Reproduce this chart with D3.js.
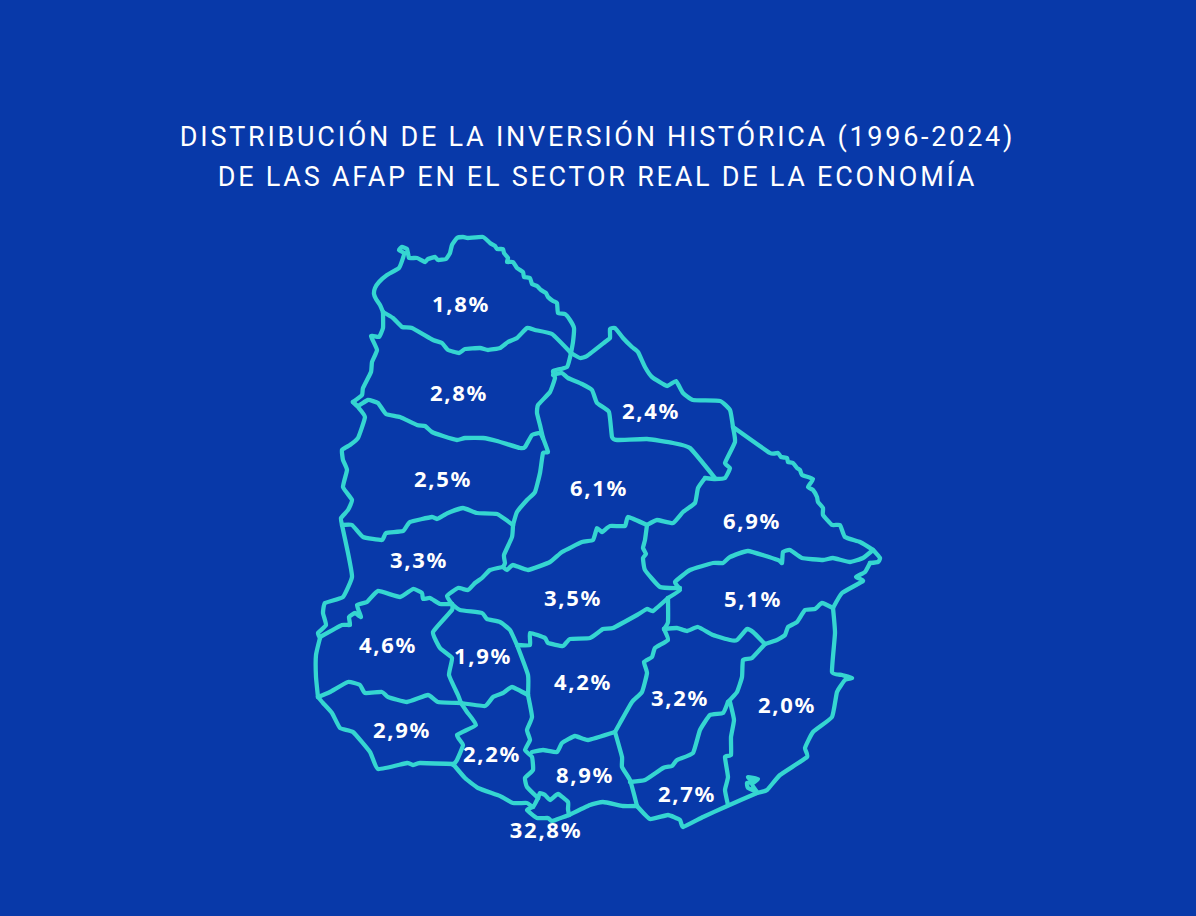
<!DOCTYPE html>
<html>

<head>
  <meta charset="utf-8">
  <title>Inversión histórica de las AFAP</title>
  <script src="https://d3js.org/d3.v7.min.js"></script>
  <style>
    html, body {
      margin: 0;
      background: #0839a9;
    }

    svg {
      display: block;
    }

    .title {
      font-family: 'Roboto', Arial, sans-serif;
      font-weight: 400;
      font-size: 27px;
      letter-spacing: 2.75px;
      fill: #ffffff;
      text-anchor: middle;
    }

    .border {
      fill: none;
      stroke: #35d6d1;
      stroke-width: 4.3;
      stroke-linejoin: round;
      stroke-linecap: round;
    }

    .share {
      font-family: 'Noto Sans', Arial, sans-serif;
      font-weight: 700;
      font-size: 22px;
      letter-spacing: 1.7px;
      fill: #ffffff;
      text-anchor: middle;
    }
  </style>
</head>

<body>
  <svg id="map" width="1196" height="916"></svg>

  <script>
    // ----
    // DATA
    // ----
    const titleLines = [
      "DISTRIBUCIÓN DE LA INVERSIÓN HISTÓRICA (1996-2024)",
      "DE LAS AFAP EN EL SECTOR REAL DE LA ECONOMÍA"
    ];

    const departments = ["Artigas", "Salto", "Paysandú", "Río Negro", "Soriano", "Flores", "Colonia", "San José",
      "Rivera", "Tacuarembó", "Durazno", "Florida", "Canelones", "Montevideo", "Cerro Largo", "Treinta y Tres",
      "Lavalleja", "Maldonado", "Rocha"];
    const shares = [1.8, 2.8, 2.5, 3.3, 4.6, 1.9, 2.9, 2.2, 2.4, 6.1, 3.5, 4.2, 8.9, 32.8, 6.9, 5.1, 3.2, 2.7, 2.0];

    // where each label sits, on the same map grid as the borders
    const labelAnchors = [[461, 304], [459, 393], [443, 479], [419, 560], [388, 645], [483, 656], [402, 730], [492, 754],
      [651, 411], [599, 488], [573, 598], [583, 682], [585, 775], [546, 830], [752, 521], [753, 599],
      [680, 698], [687, 794], [787, 705]];

    const artigasOuter = [[383, 312], [380, 305], [376, 299], [374, 294], [375, 288], [379, 282], [387, 275], [399, 268], [403, 258], [404, 253], [399, 250], [402, 247], [407, 249], [409, 258], [413, 258], [417, 258], [421, 260], [425, 262], [428, 259], [435, 257], [438, 260], [446, 259], [450, 253], [452, 245], [457, 238], [463, 237], [468, 238], [483, 237], [490, 243], [495, 246], [497, 249], [503, 249], [504, 253], [508, 258], [507, 262], [513, 262], [517, 268], [523, 272], [524, 277], [530, 278], [532, 284], [537, 286], [541, 290], [546, 293], [548, 297], [553, 301], [557, 303], [558, 313], [565, 314], [570, 320], [574, 328], [573, 342], [571, 353]];
    const artigasSalto = [[383, 312], [393, 318], [402, 327], [412, 328], [433, 340], [442, 343], [448, 350], [459, 353], [465, 349], [480, 348], [488, 350], [500, 348], [508, 342], [517, 338], [527, 328], [535, 330], [552, 334], [571, 353]];
    const saltoOuter = [[383, 312], [383, 328], [379, 337], [371, 336], [377, 350], [372, 362], [371, 372], [363, 388], [362, 395], [353, 402]];
    const saltoPaysandu = [[353, 402], [358, 406], [368, 400], [378, 403], [386, 414], [400, 417], [417, 425], [425, 426], [432, 432], [443, 436], [457, 440], [465, 438], [483, 438], [497, 441], [520, 448], [525, 447], [532, 435], [540, 433], [543, 438]];
    const paysanduOuter = [[353, 402], [358, 407], [365, 417], [358, 438], [350, 445], [342, 450], [343, 460], [347, 470], [343, 487], [352, 500], [348, 510], [341, 518], [342, 525]];
    const paysanduRioNegro = [[342, 525], [352, 525], [363, 537], [382, 540], [386, 533], [403, 531], [410, 522], [432, 517], [437, 519], [448, 513], [463, 508], [477, 513], [497, 514], [513, 525]];
    const paysanduTacuarembo = [[513, 525], [517, 512], [527, 500], [535, 492], [540, 473], [543, 453], [548, 452], [543, 438]];
    const saltoTacuarembo = [[543, 438], [540, 425], [537, 413], [538, 405], [550, 392], [555, 378], [553, 371], [567, 367], [571, 353]];
    const riveraOuter = [[571, 353], [580, 358], [587, 356], [605, 342], [610, 338], [610, 329], [615, 328], [623, 338], [632, 347], [638, 352], [645, 367], [652, 377], [667, 386], [676, 381], [683, 393], [693, 400], [720, 401], [730, 410], [733, 427]];
    const riveraTacuarembo = [[553, 375], [562, 373], [568, 378], [582, 384], [592, 390], [597, 403], [609, 412], [612, 437], [617, 440], [647, 439], [673, 443], [690, 448], [715, 478]];
    const riveraCerroLargo = [[733, 427], [735, 442], [725, 463], [730, 468], [725, 478], [715, 479], [705, 478]];
    const tacuaremboCerroLargo = [[705, 478], [698, 488], [695, 503], [683, 512], [673, 523], [657, 520], [647, 525]];
    const tacuaremboDurazno = [[647, 525], [628, 517], [625, 526], [610, 526], [602, 532], [597, 528], [593, 540], [582, 542], [562, 552], [550, 562], [528, 570], [513, 565], [507, 570], [503, 567]];
    const tacuaremboRioNegro = [[513, 525], [512, 537], [504, 555], [505, 563], [503, 567]];
    const rioNegroDurazno = [[503, 567], [490, 570], [482, 578], [475, 583], [468, 590], [458, 588], [447, 596], [452, 604]];
    const rioNegroOuter = [[342, 525], [348, 553], [352, 577], [343, 597], [325, 603], [323, 613], [326, 625], [318, 633], [320, 638]];
    const rioNegroSoriano = [[320, 637], [342, 625], [350, 625], [349, 617], [355, 613], [361, 617], [357, 605], [367, 602], [378, 591], [400, 597], [413, 589], [422, 593], [423, 599], [430, 598], [440, 604], [452, 604]];
    const sorianoOuter = [[320, 638], [316, 655], [316, 677], [318, 697]];
    const sorianoColonia = [[318, 697], [330, 692], [348, 682], [360, 685], [365, 693], [382, 692], [388, 697], [407, 702], [428, 695], [438, 702], [461, 703]];
    const sorianoFlores = [[452, 604], [452, 610], [433, 632], [440, 648], [452, 658], [449, 675], [458, 695], [461, 703]];
    const floresDurazno = [[452, 604], [460, 610], [482, 613], [487, 619], [500, 622], [510, 630], [517, 645]];
    const floresFlorida = [[517, 645], [528, 675], [528, 695]];
    const floresSanJose = [[461, 703], [485, 706], [493, 697], [503, 693], [512, 687], [528, 695]];
    const duraznoFlorida = [[517, 645], [530, 645], [530, 633], [545, 638], [548, 643], [563, 646], [570, 639], [590, 638], [603, 629], [613, 628], [637, 615], [647, 609], [653, 611], [668, 598]];
    const duraznoCerroLargo = [[647, 525], [645, 540], [643, 548], [646, 554], [643, 558], [645, 570], [660, 587], [680, 588]];
    const treintaNorth = [[668, 598], [680, 590], [675, 582], [690, 570], [713, 563], [723, 563], [730, 557], [748, 551], [778, 560], [782, 563], [783, 552], [790, 550], [802, 558], [823, 560], [833, 558], [850, 562], [863, 558], [873, 550]];
    const cerroLargoOuter = [[733, 427], [770, 453], [778, 453], [781, 457], [787, 458], [788, 462], [793, 463], [797, 468], [800, 470], [802, 475], [813, 479], [808, 487], [813, 490], [817, 497], [818, 502], [823, 508], [823, 515], [832, 525], [840, 525], [845, 537], [860, 542], [873, 550], [880, 558], [878, 562], [870, 563]];
    const treintaOuter = [[870, 563], [865, 572], [856, 577], [863, 581], [842, 593], [833, 608]];
    const treintaRocha = [[833, 608], [822, 603], [815, 609], [805, 610], [797, 622], [788, 627], [785, 635], [777, 640], [765, 644]];
    const treintaLavalleja = [[765, 644], [753, 632], [747, 629], [737, 640], [730, 640], [713, 635], [698, 627], [687, 631], [677, 628], [664, 629]];
    const duraznoLavalleja = [[668, 598], [668, 622], [664, 629]];
    const floridaLavalleja = [[664, 629], [668, 640], [655, 648], [652, 657], [644, 662], [647, 673], [642, 692], [632, 702], [620, 723], [615, 732]];
    const floridaCanelones = [[615, 732], [588, 740], [575, 736], [562, 743], [557, 752], [543, 750], [532, 752]];
    const floridaSanJose = [[528, 695], [532, 717], [527, 730], [530, 740], [525, 750], [532, 757], [533, 770], [525, 778], [527, 787], [538, 798]];
    const canelonesMontevideo = [[538, 798], [540, 793], [545, 795], [550, 800], [558, 794], [568, 802], [568, 809], [569, 815]];
    const canelonesCoast = [[569, 815], [590, 805], [603, 802], [623, 806], [637, 806]];
    const lavallejaCanelones = [[615, 732], [622, 757], [622, 767], [630, 780], [635, 798], [637, 806]];
    const sanJoseCoast = [[453, 764], [465, 778], [478, 788], [500, 796], [513, 803], [527, 803], [533, 807], [538, 798]];
    const montevideoCoast = [[533, 807], [527, 810], [537, 818], [548, 818], [552, 821], [569, 815]];
    const sanJoseColonia = [[461, 703], [467, 712], [476, 725], [457, 735], [463, 745], [457, 760], [453, 765]];
    const coloniaCoast = [[318, 697], [323, 703], [332, 713], [340, 728], [353, 732], [370, 752], [378, 769], [407, 763], [413, 765], [420, 763], [453, 764]];
    const lavallejaMaldonado = [[630, 782], [645, 780], [663, 768], [672, 766], [677, 760], [693, 753], [700, 730], [710, 715], [723, 713], [728, 702]];
    const lavallejaRocha = [[765, 644], [752, 658], [743, 660], [742, 677], [737, 692], [728, 702]];
    const rochaMaldonado = [[730, 702], [734, 720], [731, 737], [731, 755], [725, 757], [728, 777], [725, 790], [728, 805]];
    const maldonadoCoast = [[637, 806], [650, 819], [668, 815], [680, 820], [683, 827], [703, 817], [725, 807], [757, 793]];
    const rochaCoast = [[757, 793], [767, 790], [780, 775], [807, 757], [805, 748], [813, 732], [832, 717], [837, 692], [845, 680], [852, 678], [842, 675], [832, 672], [835, 633], [833, 608]];
    const lagunaShore = [[757, 792], [748, 788], [747, 783], [753, 782], [748, 777], [758, 779], [752, 784], [757, 792]];

    const borders = [artigasOuter, artigasSalto, saltoOuter, saltoPaysandu, paysanduOuter, paysanduRioNegro,
      paysanduTacuarembo, saltoTacuarembo, riveraOuter, riveraTacuarembo, riveraCerroLargo, tacuaremboCerroLargo,
      tacuaremboDurazno, tacuaremboRioNegro, rioNegroDurazno, rioNegroOuter, rioNegroSoriano, sorianoOuter,
      sorianoColonia, sorianoFlores, floresDurazno, floresFlorida, floresSanJose, duraznoFlorida, duraznoCerroLargo,
      treintaNorth, cerroLargoOuter, treintaOuter, treintaRocha, treintaLavalleja, duraznoLavalleja, floridaLavalleja,
      floridaCanelones, floridaSanJose, canelonesMontevideo, canelonesCoast, lavallejaCanelones, sanJoseCoast,
      montevideoCoast, sanJoseColonia, coloniaCoast, lavallejaMaldonado, lavallejaRocha, rochaMaldonado,
      maldonadoCoast, rochaCoast, lagunaShore];

    // ----------
    // DIMENSIONS
    // ----------
    const mapSVG = d3.select("svg#map");
    const mapWidth = +mapSVG.attr("width");
    const mapHeight = +mapSVG.attr("height");

    mapSVG.append("rect")
      .attr("width", mapWidth)
      .attr("height", mapHeight)
      .attr("fill", "#0839a9");

    // ======
    // SCALES
    // ======
    const gridX = d3.scaleLinear().domain([0, 1196]).range([0, mapWidth]);
    const gridY = d3.scaleLinear().domain([0, 916]).range([0, mapHeight]);

    const borderLine = d3.line()
      .x(d => gridX(d[0]))
      .y(d => gridY(d[1]))
      .curve(d3.curveCardinal.tension(0.6)); // tight, the borders are rather angular

    const esLocale = d3.formatLocale({ decimal: ",", thousands: ".", grouping: [3], currency: ["", "$"] });
    const shareFormat = esLocale.format(".1f");

    // =====
    // TITLE
    // =====
    mapSVG.selectAll("text.title")
      .data(titleLines)
      .join("text").attr("class", "title")
      .attr("x", mapWidth / 2 - 0.5)
      .attr("y", (d, i) => 146 + i * 40)
      .text(d => d);

    // =======
    // BORDERS
    // =======
    mapSVG.selectAll("path.border")
      .data(borders)
      .join("path").attr("class", "border")
      .attr("d", borderLine);

    // ======
    // LABELS
    // ======
    mapSVG.selectAll("text.share")
      .data(departments)
      .join("text").attr("class", "share")
      .attr("x", (d, i) => gridX(labelAnchors[i][0]))
      .attr("y", (d, i) => gridY(labelAnchors[i][1]))
      .attr("dy", "0.36em")
      .text((d, i) => shareFormat(shares[i]) + "%");
  </script>
</body>

</html>
